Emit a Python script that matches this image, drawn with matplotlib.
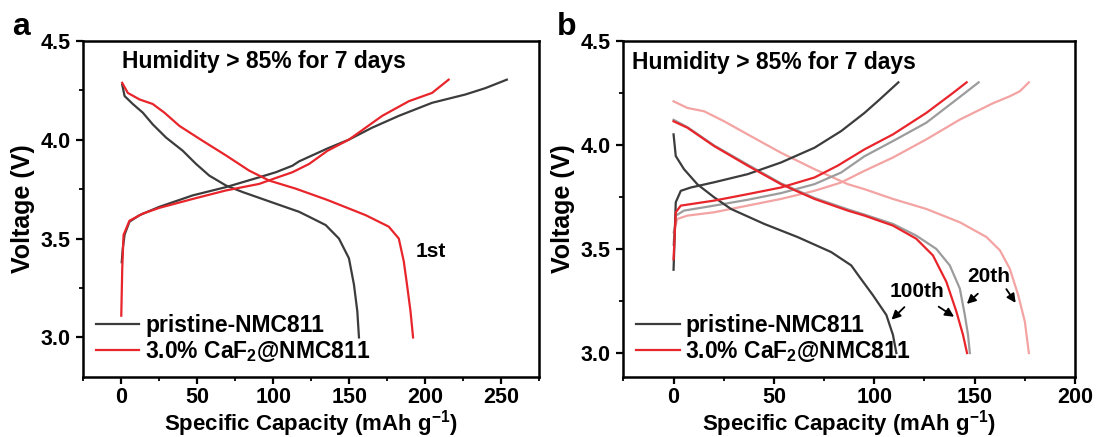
import numpy as np
import matplotlib.pyplot as plt

plt.rcParams['font.family'] = ['Liberation Sans', 'DejaVu Sans']
plt.rcParams['font.weight'] = 'bold'
plt.rcParams['mathtext.fontset'] = 'custom'
plt.rcParams['mathtext.rm'] = 'Liberation Sans:bold'
plt.rcParams['mathtext.bf'] = 'Liberation Sans:bold'
plt.rcParams['mathtext.default'] = 'bf'

# ---- panel a: 1st cycle ----
a_pri_chg_x = [0.3, 1, 2.2, 5.4, 12, 25, 47, 69, 91, 101.7, 112.6, 117, 135.6, 149.8, 165, 182.6, 204.5, 226.4, 239.5, 253.7]
a_pri_chg_y = [3.38, 3.45, 3.52, 3.585, 3.618, 3.66, 3.718, 3.76, 3.81, 3.835, 3.868, 3.89, 3.955, 4.0, 4.06, 4.12, 4.186, 4.228, 4.26, 4.303]
a_pri_dis_x = [0.6, 2.2, 7.6, 14.2, 20.7, 29.5, 40.4, 49.2, 57.9, 68.9, 79.8, 101.7, 117, 123.6, 134.5, 143.2, 149.8, 153.1, 155.3, 156.4]
a_pri_dis_y = [4.278, 4.22, 4.18, 4.136, 4.077, 4.01, 3.944, 3.877, 3.818, 3.768, 3.735, 3.676, 3.635, 3.61, 3.568, 3.50, 3.40, 3.267, 3.133, 3.0]
a_caf_chg_x = [0, 0.65, 1.5, 5.4, 14.2, 25.1, 47, 68.9, 90.7, 101.7, 112.6, 123.6, 135.6, 149.8, 171.7, 189.2, 204.5, 215.4]
a_caf_chg_y = [3.11, 3.35, 3.518, 3.59, 3.626, 3.655, 3.70, 3.743, 3.776, 3.806, 3.835, 3.877, 3.943, 4.0, 4.12, 4.194, 4.236, 4.303]
a_caf_dis_x = [0.6, 4.3, 12, 20.7, 28.4, 38.3, 53.5, 68.9, 84.2, 97.3, 114.8, 135.6, 160.8, 176, 182.6, 185.9, 188, 190.3, 192]
a_caf_dis_y = [4.287, 4.236, 4.203, 4.18, 4.136, 4.069, 3.994, 3.92, 3.843, 3.793, 3.752, 3.695, 3.618, 3.56, 3.50, 3.384, 3.267, 3.133, 3.0]

# ---- panel b: 20th and 100th cycles ----
b_pri100_chg_x = [0, 1.1, 3.6, 8.6, 20.2, 36.9, 53.5, 70.2, 83.5, 95.1, 102.6, 112]
b_pri100_chg_y = [3.40, 3.724, 3.779, 3.795, 3.82, 3.859, 3.915, 3.986, 4.066, 4.153, 4.217, 4.30]
b_pri100_dis_x = [0, 1.1, 5.2, 11.9, 20.2, 28.6, 45.2, 61.8, 78.5, 88.5, 92.6, 99.3, 106, 109.3, 111]
b_pri100_dis_y = [4.05, 3.946, 3.883, 3.81, 3.748, 3.692, 3.62, 3.557, 3.485, 3.421, 3.366, 3.278, 3.183, 3.087, 3.0]
b_caf100_chg_x = [0, 1.1, 3.6, 20.2, 36.9, 53.5, 70.2, 81.8, 95.1, 109.3, 125.9, 139.2, 146]
b_caf100_chg_y = [3.45, 3.676, 3.708, 3.732, 3.763, 3.795, 3.843, 3.90, 3.978, 4.05, 4.153, 4.249, 4.30]
b_caf100_dis_x = [0, 6.9, 20.2, 36.9, 53.5, 70.2, 86.8, 95.1, 109.3, 120.9, 129.2, 135.9, 140.9, 144.2, 146.2]
b_caf100_dis_y = [4.113, 4.082, 3.994, 3.90, 3.811, 3.74, 3.684, 3.66, 3.612, 3.549, 3.469, 3.342, 3.199, 3.087, 3.0]
b_pri20_chg_x = [0, 1.1, 5.2, 20.2, 36.9, 53.5, 70.2, 83.5, 95.1, 109.3, 125.9, 140.9, 152]
b_pri20_chg_y = [3.52, 3.66, 3.684, 3.708, 3.736, 3.768, 3.811, 3.867, 3.945, 4.018, 4.106, 4.217, 4.30]
b_pri20_dis_x = [0, 6.9, 20.2, 36.9, 53.5, 70.2, 86.8, 95.1, 109.3, 120.9, 130.9, 137.6, 142.6, 145.1, 146.7, 147.6]
b_pri20_dis_y = [4.12, 4.085, 3.997, 3.905, 3.815, 3.745, 3.69, 3.665, 3.62, 3.564, 3.50, 3.421, 3.31, 3.183, 3.087, 3.0]
b_caf20_chg_x = [0, 1.9, 6.9, 20.2, 36.9, 53.5, 70.2, 83.5, 94, 109.3, 125.9, 142.6, 159.2, 167.5, 172.5, 177]
b_caf20_chg_y = [3.58, 3.644, 3.66, 3.676, 3.708, 3.74, 3.779, 3.819, 3.87, 3.939, 4.026, 4.121, 4.20, 4.233, 4.257, 4.30]
b_caf20_dis_x = [0, 6.9, 15.2, 25.2, 36.9, 53.5, 70.2, 86.8, 95.1, 109.3, 125.9, 142.6, 155.9, 162.6, 167.5, 171.7, 175, 177]
b_caf20_dis_y = [4.209, 4.177, 4.161, 4.113, 4.05, 3.962, 3.883, 3.811, 3.787, 3.74, 3.692, 3.628, 3.557, 3.493, 3.405, 3.278, 3.151, 3.0]

dark = '#3c3c3c'
red = '#e8252b'
grey = '#9c9c9c'
pink = '#f4a3a3'
lw = 1.6

fig = plt.figure(figsize=(11, 4.37), dpi=100)
ax1 = fig.add_axes([0.0757, 0.1373, 0.4145, 0.7696])
ax2 = fig.add_axes([0.5667, 0.1373, 0.4106, 0.7696])

ax1.plot(a_pri_chg_x, a_pri_chg_y, color=dark, lw=lw, label='pristine-NMC811')
ax1.plot(a_pri_dis_x, a_pri_dis_y, color=dark, lw=lw)
ax1.plot(a_caf_chg_x, a_caf_chg_y, color=red, lw=lw, label='3.0% CaF$_2$@NMC811')
ax1.plot(a_caf_dis_x, a_caf_dis_y, color=red, lw=lw)

ax2.plot(b_caf20_chg_x, b_caf20_chg_y, color=pink, lw=lw)
ax2.plot(b_caf20_dis_x, b_caf20_dis_y, color=pink, lw=lw)
ax2.plot(b_pri20_chg_x, b_pri20_chg_y, color=grey, lw=lw)
ax2.plot(b_pri20_dis_x, b_pri20_dis_y, color=grey, lw=lw)
ax2.plot(b_pri100_chg_x, b_pri100_chg_y, color=dark, lw=lw, label='pristine-NMC811')
ax2.plot(b_pri100_dis_x, b_pri100_dis_y, color=dark, lw=lw)
ax2.plot(b_caf100_chg_x, b_caf100_chg_y, color=red, lw=lw, label='3.0% CaF$_2$@NMC811')
ax2.plot(b_caf100_dis_x, b_caf100_dis_y, color=red, lw=lw)

ax1.set_xlim(-25, 275)
ax1.set_ylim(2.8, 4.5)
ax1.set_xticks([0, 50, 100, 150, 200, 250])
ax1.set_xticks(np.arange(-25, 276, 25), minor=True)
ax2.set_xlim(-25, 200)
ax2.set_ylim(2.885, 4.5)
ax2.set_xticks([0, 50, 100, 150, 200])
ax2.set_xticks(np.arange(-25, 201, 25), minor=True)

for ax in (ax1, ax2):
    ax.set_yticks([3.0, 3.5, 4.0, 4.5])
    ax.set_yticks(np.arange(3.0, 4.51, 0.25), minor=True)
    for s in ax.spines.values():
        s.set_linewidth(1.8)
    ax.tick_params(which='major', direction='out', length=5, width=1.6, labelsize=15.5, pad=4)
    ax.tick_params(axis='x', which='major', pad=2)
    ax.tick_params(which='minor', direction='out', length=3, width=1.3)
    for t in ax.get_xticklabels() + ax.get_yticklabels():
        t.set_fontweight('bold')
    ax.set_xlabel('Specific Capacity (mAh g$^{-1}$)', fontsize=16, fontweight='bold', labelpad=0)
    ax.set_ylabel('Voltage (V)', fontsize=18, fontweight='bold', labelpad=4)
    ax.legend(loc='lower left', frameon=False, handlelength=1.9,
              handletextpad=0.25, labelspacing=0.12, borderaxespad=0.15,
              prop={'weight': 'bold', 'size': 16.5})

ax1.text(0.0857, 0.938, 'Humidity > 85% for 7 days', transform=ax1.transAxes,
         fontsize=16.5, fontweight='bold', va='center', ha='left')
ax2.text(0.0186, 0.934, 'Humidity > 85% for 7 days', transform=ax2.transAxes,
         fontsize=16.5, fontweight='bold', va='center', ha='left')

ax1.text(204, 3.436, '1st', fontsize=15, fontweight='bold', ha='center', va='center')

arrow = dict(arrowstyle='-|>', color='black', lw=1.3, mutation_scale=13)
ax2.text(121.2, 3.294, '100th', fontsize=15, fontweight='bold', ha='center', va='center')
ax2.annotate('', xy=(107.6, 3.151), xytext=(116, 3.23), arrowprops=arrow)
ax2.annotate('', xy=(140.9, 3.167), xytext=(130.9, 3.23), arrowprops=arrow)
ax2.text(157, 3.366, '20th', fontsize=15, fontweight='bold', ha='center', va='center')
ax2.annotate('', xy=(145.1, 3.227), xytext=(152.6, 3.294), arrowprops=arrow)
ax2.annotate('', xy=(171.2, 3.23), xytext=(165, 3.318), arrowprops=arrow)

fig.text(0.011, 0.92, 'a', fontsize=23, fontweight='bold', va='baseline')
fig.text(0.506, 0.92, 'b', fontsize=23, fontweight='bold', va='baseline')

fig.savefig('out.png', dpi=100)
